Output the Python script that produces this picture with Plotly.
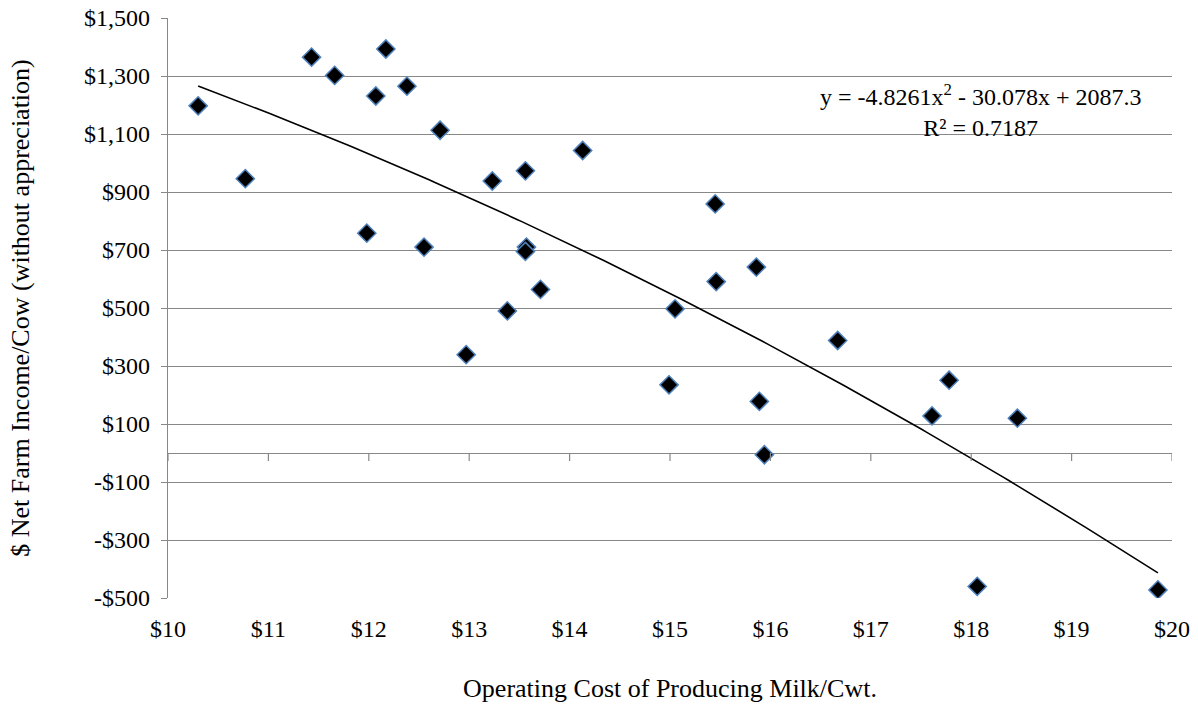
import numpy as np
import plotly.graph_objects as go

# Operating cost of producing milk ($/cwt)
cost = [10.30, 10.77, 11.43, 11.66, 11.98, 12.07, 12.17, 12.38, 12.55, 12.71,
        12.97, 13.23, 13.38, 13.56, 13.57, 13.56, 13.71, 14.13, 14.99, 15.05,
        15.45, 15.46, 15.86, 15.89, 15.94, 16.67, 17.61, 17.78, 18.46, 18.06, 19.86]
# Net farm income per cow ($, without appreciation)
income = [1197, 946, 1365, 1302, 758, 1231, 1393, 1265, 710, 1113,
          339, 938, 490, 973, 710, 695, 564, 1043, 235, 497,
          859, 591, 641, 178, -6, 388, 128, 251, 120, -460, -472]

# Polynomial trendline coefficients as displayed (a*x^2 + b*x + c)
trend_coef = [-4.8261, -30.078, 2087.3]
trend_label = "y = -4.8261x<sup>2</sup> - 30.078x + 2087.3<br>R² = 0.7187"

x_ticks = list(range(10, 21))
x_ticktext = ["$10", "$11", "$12", "$13", "$14", "$15", "$16", "$17", "$18", "$19", "$20"]
y_ticks = [-500, -300, -100, 100, 300, 500, 700, 900, 1100, 1300, 1500]
y_ticktext = ["-$500", "-$300", "-$100", "$100", "$300", "$500", "$700", "$900",
              "$1,100", "$1,300", "$1,500"]

FONT = "Liberation Serif, Times New Roman, serif"
GRID = "#888888"

tx = np.linspace(min(cost), max(cost), 200)
ty = np.polyval(trend_coef, tx)

fig = go.Figure()
fig.add_trace(go.Scatter(
    x=tx, y=ty, mode="lines", line=dict(color="black", width=1.6),
    hoverinfo="skip", showlegend=False))
fig.add_trace(go.Scatter(
    x=cost, y=income, mode="markers",
    marker=dict(symbol="diamond", size=14, color="black",
                line=dict(color="#4f81bd", width=1.5)),
    showlegend=False))

# tick marks along the horizontal axis line at y = 0
for v in x_ticks:
    fig.add_shape(type="line", xref="x", yref="y", x0=v, x1=v,
                  ysizemode="pixel", yanchor=0, y0=0, y1=-8,
                  line=dict(color=GRID, width=1.2))

fig.add_annotation(x=18.09, y=1180, xref="x", yref="y", text=trend_label,
                   showarrow=False, align="center", xanchor="center", yanchor="middle",
                   font=dict(family=FONT, size=24, color="black"))

fig.update_xaxes(range=[10, 20], tickvals=x_ticks, ticktext=x_ticktext,
                 showgrid=False, zeroline=False, showline=False, ticks="",
                 ticklabelstandoff=14, automargin=False,
                 tickfont=dict(family=FONT, size=24, color="black"),
                 title=dict(text="Operating Cost of Producing Milk/Cwt.",
                            font=dict(family=FONT, size=26, color="black"), standoff=37))
fig.update_yaxes(range=[-500, 1500], tickvals=y_ticks, ticktext=y_ticktext,
                 showgrid=True, gridcolor=GRID, gridwidth=1.2,
                 zeroline=True, zerolinecolor=GRID, zerolinewidth=1.2,
                 showline=True, linecolor=GRID, linewidth=1.2,
                 ticks="outside", ticklen=6, tickcolor=GRID,
                 ticklabelstandoff=6, automargin=False,
                 tickfont=dict(family=FONT, size=24, color="black"),
                 title=dict(text="$ Net Farm Income/Cow (without appreciation)",
                            font=dict(family=FONT, size=26, color="black"), standoff=46))

fig.update_layout(width=1198, height=706, margin=dict(l=168, r=26, t=18, b=108),
                  plot_bgcolor="white", paper_bgcolor="white")

fig.write_html("out.html", config={"displayModeBar": False},
               post_script="document.body.style.margin='0';")
